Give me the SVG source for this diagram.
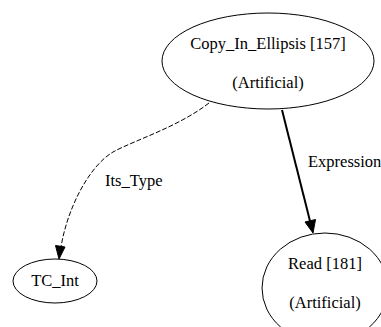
<svg xmlns="http://www.w3.org/2000/svg" width="381" height="327" viewBox="0 0 381 327">
  <style>
    text { font-family: "Liberation Serif", "Times New Roman", serif; font-size: 16.5px; fill: #000; }
    .node ellipse { fill: none; stroke: #000; stroke-width: 1; }
    .edge { fill: none; stroke: #000; }
    .dashed { stroke-dasharray: 5,2; stroke-width: 1; }
    .bold { stroke-width: 2; }
    .head { fill: #000; stroke: #000; }
  </style>
  <rect width="381" height="327" fill="#fff"/>
  <g id="edges">
    <path class="edge dashed" d="M209,103 C178,127 135,140 113,152 C88,167 67,210 61,247"/>
    <polygon class="head" points="55.5,245.5 59,259 65,247"/>
    <text x="105" y="186">Its_Type</text>
    <path class="edge bold" d="M282,110 L310,221"/>
    <polygon class="head" points="305,222 313,233 315.5,219.5"/>
    <text x="308" y="167">Expression</text>
  </g>
  <g id="copy_in_ellipsis" class="node">
    <ellipse cx="268" cy="61" rx="106" ry="48"/>
    <text x="268" y="49" text-anchor="middle">Copy_In_Ellipsis [157]</text>
    <text x="268" y="88" text-anchor="middle">(Artificial)</text>
  </g>
  <g id="tc_int" class="node">
    <ellipse cx="55" cy="281" rx="42" ry="22"/>
    <text x="55" y="286" text-anchor="middle">TC_Int</text>
  </g>
  <g id="read" class="node">
    <ellipse cx="325" cy="288" rx="63" ry="55"/>
    <text x="325" y="269" text-anchor="middle">Read [181]</text>
    <text x="325" y="308" text-anchor="middle">(Artificial)</text>
  </g>
</svg>
